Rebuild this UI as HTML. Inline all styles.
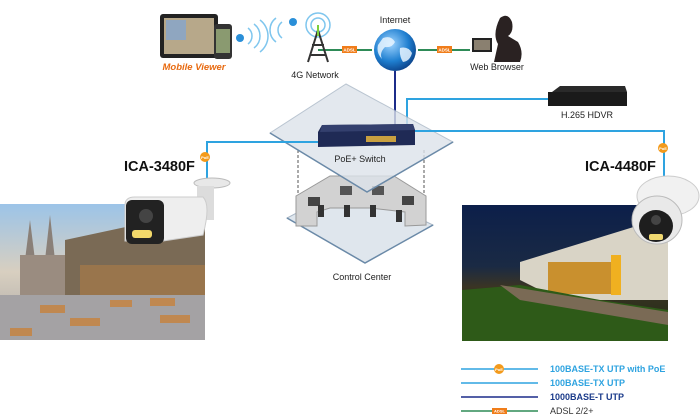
<!DOCTYPE html>
<html><head><meta charset="utf-8"><style>
html,body{margin:0;padding:0;background:#fff;}
svg{display:block;font-family:"Liberation Sans",sans-serif;}
</style></head><body>
<svg width="700" height="418" viewBox="0 0 700 418" xmlns="http://www.w3.org/2000/svg">
<defs>
<linearGradient id="sky1" x1="0" y1="0" x2="0" y2="1"><stop offset="0" stop-color="#9cc4e8"/><stop offset="0.5" stop-color="#d8cfc0"/><stop offset="1" stop-color="#a8a6a4"/></linearGradient>
<linearGradient id="sky2" x1="0" y1="0" x2="0" y2="1"><stop offset="0" stop-color="#0c1f4a"/><stop offset="0.45" stop-color="#1a2a44"/><stop offset="0.6" stop-color="#3a3424"/><stop offset="1" stop-color="#1d2a12"/></linearGradient>
<radialGradient id="globe" cx="0.4" cy="0.35" r="0.7"><stop offset="0" stop-color="#9fd4ff"/><stop offset="0.6" stop-color="#1f7fd0"/><stop offset="1" stop-color="#0b3f86"/></radialGradient>
</defs>

<line x1="318" y1="50" x2="372" y2="50" stroke="#2e8b57" stroke-width="2"/>
<line x1="418" y1="50" x2="470" y2="50" stroke="#2e8b57" stroke-width="2"/>
<rect x="342" y="46" width="15" height="7" fill="#f07d1a"/><text x="349.5" y="51.5" font-size="4.5" fill="#fff" text-anchor="middle" font-weight="bold">ADSL</text>
<rect x="437" y="46" width="15" height="7" fill="#f07d1a"/><text x="444.5" y="51.5" font-size="4.5" fill="#fff" text-anchor="middle" font-weight="bold">ADSL</text>

<rect x="160" y="14" width="58" height="44" rx="3" fill="#222"/>
<rect x="164" y="18" width="50" height="36" fill="#b7a88a"/>
<rect x="166" y="20" width="20" height="20" fill="#8fa6c0"/>
<rect x="214" y="24" width="18" height="35" rx="3" fill="#333"/>
<rect x="216" y="29" width="14" height="24" fill="#8a9a70"/>
<text x="194" y="70" font-size="9.5" fill="#e86a10" font-weight="bold" font-style="italic" text-anchor="middle">Mobile Viewer</text>
<g fill="none" stroke="#7fc6ee" stroke-width="1.5">
<path d="M248 28 a10 10 0 0 1 0 16"/><path d="M254 24 a15 15 0 0 1 0 24"/><path d="M260 20 a20 20 0 0 1 0 32"/>
<path d="M282 22 a10 10 0 0 0 0 16"/><path d="M276 18 a15 15 0 0 0 0 24"/>
<circle cx="318" cy="25" r="7"/><circle cx="318" cy="25" r="12"/>
</g>
<circle cx="240" cy="38" r="4" fill="#2a8fd8"/><circle cx="293" cy="22" r="4" fill="#2a8fd8"/>
<path d="M318 30 L308 62 M318 30 L328 62 M312 45 L324 45 M310 55 L326 55" stroke="#333" stroke-width="2" fill="none"/>
<line x1="318" y1="25" x2="318" y2="36" stroke="#7ccf3a" stroke-width="2"/>
<text x="315" y="78" font-size="9" fill="#222" text-anchor="middle">4G Network</text>
<text x="395" y="23" font-size="9" fill="#222" text-anchor="middle">Internet</text>
<circle cx="395" cy="50" r="21" fill="url(#globe)"/>
<path d="M383 38 q8 -3 12 4 q-3 6 -10 5 q-6 6 -3 12 q-6 -6 -4 -14z M400 48 q8 -2 12 5 q-2 8 -9 9 q-4 -6 -3 -14z" fill="#e8f4ff" opacity="0.85"/>
<path d="M500 18 q8 -6 12 4 q2 10 -4 14 l10 6 q6 10 2 20 l-26 0 l4 -18 q-6 -10 2 -26z" fill="#2a2222"/>
<rect x="472" y="38" width="20" height="14" fill="#222"/><rect x="474" y="40" width="16" height="10" fill="#8a8070"/>
<text x="497" y="70" font-size="9" fill="#222" text-anchor="middle">Web Browser</text>

<line x1="395" y1="71" x2="395" y2="126" stroke="#1c2c8a" stroke-width="2"/>
<polyline points="407,126 407,99 548,99" fill="none" stroke="#2ea3e0" stroke-width="2"/>

<!-- lower platform and desk first -->
<line x1="298" y1="150" x2="298" y2="200" stroke="#555" stroke-dasharray="3,2"/>
<line x1="424" y1="150" x2="424" y2="200" stroke="#555" stroke-dasharray="3,2"/>
<polygon points="350,185 433,225 365,263 287,218" fill="#dfe6ed" stroke="#a9b7c6"/>
<polyline points="287,218 365,263 433,225" fill="none" stroke="#6b8aa8" stroke-width="1.5"/>
<polygon points="296,196 330,176 394,176 426,196 426,225 405,226 405,212 370,208 330,208 317,212 317,226 296,226" fill="#d2d2d2" stroke="#999"/>
<rect x="340" y="186" width="12" height="9" fill="#555"/><rect x="372" y="186" width="12" height="9" fill="#555"/>
<rect x="308" y="197" width="12" height="9" fill="#444"/><rect x="402" y="196" width="12" height="9" fill="#444"/>
<g fill="#333"><rect x="318" y="205" width="6" height="12"/><rect x="344" y="205" width="6" height="12"/><rect x="370" y="205" width="6" height="12"/><rect x="396" y="210" width="6" height="12"/></g>
<text x="362" y="280" font-size="9" fill="#222" text-anchor="middle">Control Center</text>

<!-- upper platform -->
<polygon points="346,84 453,142 367,192 270,133" fill="#dde3ea" opacity="0.8" stroke="#a9b7c6"/>
<polyline points="270,133 367,192 453,142" fill="none" stroke="#6b8aa8" stroke-width="1.5"/>
<polyline points="207,180 207,142 318,142" fill="none" stroke="#2ea3e0" stroke-width="2"/>
<polyline points="415,131 664,131 664,178" fill="none" stroke="#2ea3e0" stroke-width="2"/>
<polygon points="322,125 413,124 415,130 415,145 318,147 318,132" fill="#1f2a55"/>
<polygon points="322,125 413,124 415,130 320,132" fill="#34406e"/>
<rect x="366" y="136" width="30" height="6" fill="#c9a040"/>
<text x="360" y="162" font-size="9" fill="#222" text-anchor="middle">PoE+ Switch</text>

<polygon points="552,92 560,86 625,86 627,92" fill="#2a2a2a"/>
<rect x="548" y="92" width="79" height="14" fill="#1a1a1a"/>
<text x="587" y="118" font-size="9" fill="#222" text-anchor="middle">H.265 HDVR</text>

<!-- left photo -->
<rect x="0" y="204" width="205" height="136" fill="url(#sky1)"/>
<polygon points="25,260 30,220 35,260" fill="#8a8078"/><polygon points="45,260 50,215 55,260" fill="#8a8078"/>
<rect x="20" y="255" width="45" height="40" fill="#9a8c80"/>
<polygon points="65,240 205,210 205,300 65,300" fill="#7a6a55"/>
<rect x="80" y="265" width="125" height="32" fill="#a67a48" opacity="0.7"/>
<rect x="0" y="295" width="205" height="45" fill="#a4a2a4"/>
<g fill="#c08850"><rect x="40" y="305" width="25" height="8"/><rect x="110" y="300" width="22" height="7"/><rect x="150" y="298" width="25" height="8"/><rect x="70" y="318" width="30" height="8"/><rect x="160" y="315" width="30" height="8"/><rect x="10" y="328" width="22" height="8"/></g>
<polyline points="207,142 207,178" fill="none" stroke="#2ea3e0" stroke-width="2"/>
<ellipse cx="212" cy="183" rx="18" ry="5" fill="#e8e8e8" stroke="#bbb"/>
<rect x="197" y="186" width="17" height="34" fill="#dcdcdc"/>
<path d="M125 205 q0 -8 10 -8 l68 0 q8 8 0 38 l-40 6 l-38 0 z" fill="#eeeeee" stroke="#ccc"/>
<rect x="126" y="200" width="38" height="44" rx="6" fill="#222"/>
<circle cx="146" cy="216" r="7" fill="#444"/>
<rect x="132" y="230" width="20" height="8" rx="3" fill="#f2d86a"/>
<text x="124" y="171" font-size="14.5" font-weight="bold" fill="#111">ICA-3480F</text>
<circle cx="205" cy="157" r="5" fill="#f39a1b"/><text x="205" y="159" font-size="4" fill="#fff" text-anchor="middle" font-weight="bold">PoE</text>

<!-- right photo -->
<rect x="462" y="205" width="206" height="136" fill="url(#sky2)"/>
<polygon points="520,262 640,225 668,230 668,300 560,300 520,280" fill="#d9d4c6"/>
<rect x="548" y="262" width="70" height="32" fill="#c9902e"/>
<rect x="611" y="255" width="10" height="40" fill="#f0b020"/>
<polygon points="462,290 520,285 600,300 668,310 668,341 462,341" fill="#2e5a18"/>
<polygon points="500,285 668,312 668,325 520,300" fill="#7a6a55"/>
<!-- dome -->
<ellipse cx="668" cy="196" rx="31" ry="20" fill="#f1f1f1" stroke="#ccc"/>
<ellipse cx="657" cy="220" rx="25" ry="24" fill="#e9e9e9" stroke="#bbb"/>
<ellipse cx="656" cy="226" rx="17" ry="16" fill="#1e1e1e"/>
<circle cx="656" cy="220" r="5" fill="#444"/>
<rect x="649" y="234" width="14" height="6" rx="2" fill="#f0d870"/>
<text x="585" y="171" font-size="14.5" font-weight="bold" fill="#111">ICA-4480F</text>
<circle cx="663" cy="148" r="5" fill="#f39a1b"/><text x="663" y="150" font-size="4" fill="#fff" text-anchor="middle" font-weight="bold">PoE</text>

<line x1="461" y1="369" x2="538" y2="369" stroke="#2ea3e0" stroke-width="1.5"/>
<circle cx="499" cy="369" r="5" fill="#f39a1b"/><text x="499" y="371" font-size="4" fill="#fff" text-anchor="middle" font-weight="bold">PoE</text>
<line x1="461" y1="383" x2="538" y2="383" stroke="#2ea3e0" stroke-width="1.5"/>
<line x1="461" y1="397" x2="538" y2="397" stroke="#1c2c8a" stroke-width="1.5"/>
<line x1="461" y1="411" x2="538" y2="411" stroke="#2e8b57" stroke-width="1.5"/>
<rect x="492" y="408" width="15" height="6" fill="#f07d1a"/><text x="499.5" y="412.5" font-size="4" fill="#fff" text-anchor="middle" font-weight="bold">ADSL</text>
<g font-size="9">
<text x="550" y="372" fill="#2ea3e0" font-weight="bold">100BASE-TX UTP with PoE</text>
<text x="550" y="386" fill="#2ea3e0" font-weight="bold">100BASE-TX UTP</text>
<text x="550" y="400" fill="#1a3a8a" font-weight="bold">1000BASE-T UTP</text>
<text x="550" y="414" fill="#333">ADSL 2/2+</text>
</g>
</svg>
</body></html>
